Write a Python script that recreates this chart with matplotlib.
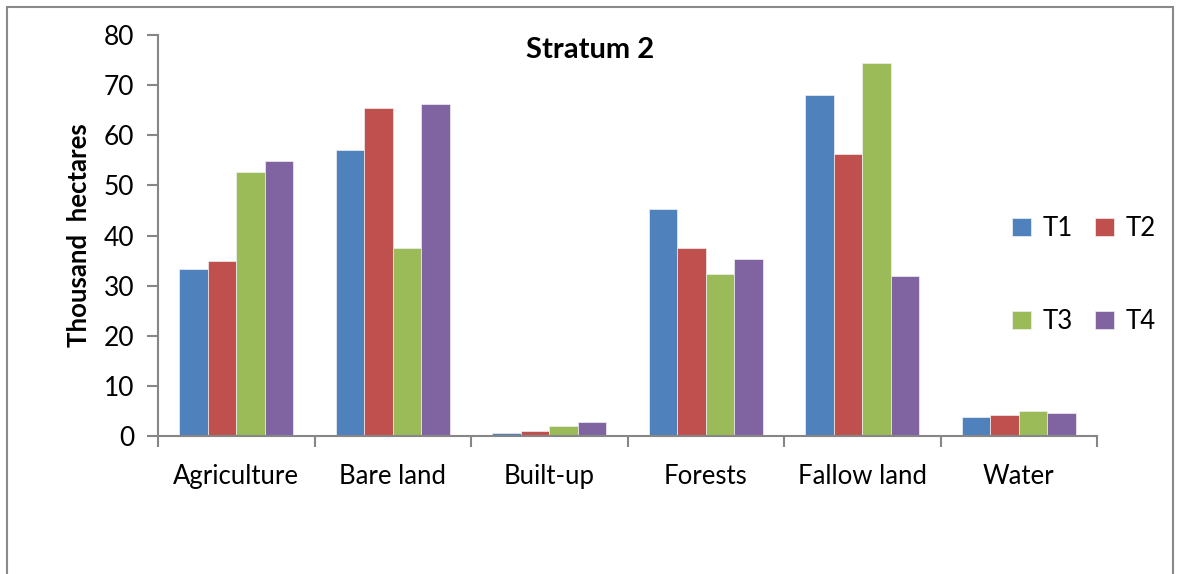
import numpy as np
import matplotlib
matplotlib.use('Agg')
import matplotlib.pyplot as plt
from matplotlib.patches import Rectangle

# data
categories = ['Agriculture', 'Bare land', 'Built-up', 'Forests', 'Fallow land', 'Water']
series = ['T1', 'T2', 'T3', 'T4']
t1 = [33.3, 57.1, 0.6, 45.3, 68.0, 3.7]
t2 = [34.9, 65.4, 1.0, 37.5, 56.2, 4.1]
t3 = [52.7, 37.5, 1.9, 32.3, 74.5, 4.9]
t4 = [54.9, 66.2, 2.8, 35.4, 31.9, 4.5]
yticks = [0, 10, 20, 30, 40, 50, 60, 70, 80]

colors = ['#4F81BD', '#C0504D', '#9BBB59', '#8064A2']
plt.rcParams['font.family'] = ['Lato', 'DejaVu Sans']

fig = plt.figure(figsize=(11.81, 5.74), dpi=100)
ax = fig.add_axes([0.1338, 0.2404, 0.7951, 0.6986])

x = np.arange(len(categories))
w = 0.182
bars = []
for i, (vals, lab) in enumerate(zip([t1, t2, t3, t4], series)):
    b = ax.bar(x + (i - 1.5) * w, vals, w, color=colors[i], label=lab,
               edgecolor='#f0f0f0', linewidth=0.5)
    bars.append(b)

ax.set_xlim(-0.5, len(categories) - 0.5)
ax.set_ylim(0, 80)
ax.set_yticks(yticks)
ax.set_yticklabels([str(v) for v in yticks], fontsize=19)
ax.set_xticks(x)
ax.set_xticklabels(categories, fontsize=18.5)
ax.set_xticks(np.arange(len(categories) + 1) - 0.5, minor=True)
ax.tick_params(axis='x', which='major', length=0, pad=20)
ax.tick_params(axis='x', which='minor', length=8, width=1.5, color='#868686', direction='out')
ax.tick_params(axis='y', length=8, width=1.5, color='#868686', direction='out', pad=9)

for s in ['top', 'right']:
    ax.spines[s].set_visible(False)
for s in ['left', 'bottom']:
    ax.spines[s].set_color('#868686')
    ax.spines[s].set_linewidth(1.5)

ax.set_ylabel('Thousand  hectares', fontsize=18.5, fontweight='bold', labelpad=9)
fig.text(0.5, 0.913, 'Stratum 2', fontsize=21, fontweight='bold', ha='center', va='center')

# legend fills by column, so reorder to get T1 T2 / T3 T4 rows
order = [0, 2, 1, 3]
fig.legend([bars[k] for k in order], [series[k] for k in order],
           loc='center left', bbox_to_anchor=(0.846, 0.521), ncol=2, frameon=False,
           fontsize=18.5, handlelength=0.75, handleheight=0.75, handletextpad=0.45,
           columnspacing=0.85, labelspacing=2.65, borderpad=0)

# outer chart border
fig.patches.append(Rectangle((7 / 1181, -0.1), 1166 / 1181, 1.1 - 7 / 574,
                             transform=fig.transFigure, fill=False,
                             edgecolor='#898989', linewidth=1.5))

fig.savefig('out.png', dpi=100)
